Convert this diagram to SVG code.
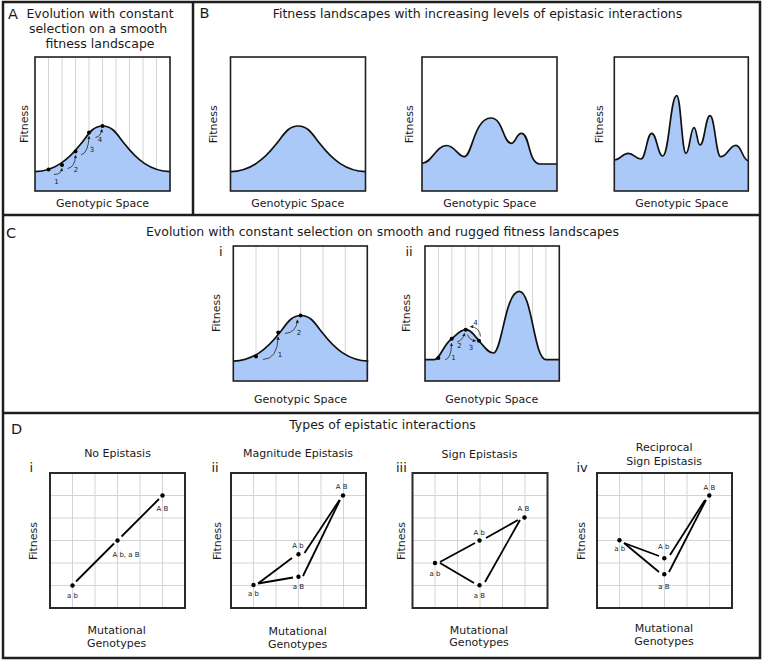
<svg xmlns="http://www.w3.org/2000/svg" width="764" height="661" viewBox="0 0 764 661">
<style>
text{font-family:"DejaVu Sans","Verdana",sans-serif;fill:#1a1a1a}
.ttl{font-size:12.5px;text-anchor:middle}
.let{font-size:14.5px}
.rn{font-size:13px}
.ax{font-size:11px;text-anchor:middle}
.sm{font-size:7px;text-anchor:middle}
.frame{fill:none;stroke:#1e1e1e;stroke-width:2.5}
.box{fill:none;stroke:#1e1e1e;stroke-width:1.6}
.dbox{fill:none;stroke:#2a2a2a;stroke-width:2}
.grid{stroke:#d4d4d4;stroke-width:1}
.fill{fill:#aac9f8;stroke:none}
.curve{fill:none;stroke:#111;stroke-width:1.7}
.arr{fill:none;stroke:#222;stroke-width:0.8;marker-end:url(#ah)}
.dot{fill:#000}
.con{stroke:#000;stroke-width:1.8;fill:none}
</style>
<defs>
<marker id="ah" viewBox="0 0 6 6" refX="5" refY="3" markerWidth="3.5" markerHeight="3.5" markerUnits="userSpaceOnUse" orient="auto"><path d="M0,0 L6,3 L0,6 z" fill="#222"/></marker>
<path id="bellLine" d="M0,114.7 C20,114 33.7,102.5 45.7,87.1 C53.7,76.9 57.7,69 67.7,69 C77.7,69 81.7,76.9 89.7,87.1 C101.7,102.5 115,114 135,114.7"/>
<path id="bellFill" d="M0,114.7 C20,114 33.7,102.5 45.7,87.1 C53.7,76.9 57.7,69 67.7,69 C77.7,69 81.7,76.9 89.7,87.1 C101.7,102.5 115,114 135,114.7 L135,134 L0,134 Z"/>
</defs>
<rect width="764" height="661" fill="#fff"/>

<!-- frame -->
<g id="frame">
<rect class="frame" x="3" y="2" width="757" height="656"/>
<line class="frame" x1="193" y1="2" x2="193" y2="215"/>
<line class="frame" x1="3" y1="215" x2="760" y2="215"/>
<line class="frame" x1="3" y1="413" x2="760" y2="413"/>
</g>

<!-- Panel A -->
<g id="panelA">
<text class="let" x="8" y="18.5">A</text>
<text class="ttl" x="100" y="17.5">Evolution with constant</text>
<text class="ttl" x="98" y="32.5">selection on a smooth</text>
<text class="ttl" x="100" y="48">fitness landscape</text>
<g class="grid">
<line x1="48.5" y1="57" x2="48.5" y2="191"/><line x1="62" y1="57" x2="62" y2="191"/><line x1="75.5" y1="57" x2="75.5" y2="191"/><line x1="89" y1="57" x2="89" y2="191"/><line x1="102.5" y1="57" x2="102.5" y2="191"/><line x1="116" y1="57" x2="116" y2="191"/><line x1="129.5" y1="57" x2="129.5" y2="191"/><line x1="143" y1="57" x2="143" y2="191"/><line x1="156.5" y1="57" x2="156.5" y2="191"/>
</g>
<use href="#bellFill" class="fill" transform="translate(35,57)"/>
<use href="#bellLine" class="curve" transform="translate(35,57)"/>
<rect class="box" x="35" y="57" width="135" height="134"/>
<circle class="dot" cx="48.5" cy="169.5" r="2"/>
<circle class="dot" cx="62" cy="165" r="2"/>
<circle class="dot" cx="75.5" cy="151.5" r="2"/>
<circle class="dot" cx="89" cy="132.5" r="2"/>
<circle class="dot" cx="102.5" cy="126" r="2"/>
<path class="arr" d="M54,174.5 Q61.5,174.5 61.8,168.5"/>
<path class="arr" d="M67.5,168.5 Q75,167.5 75.6,155.5"/>
<path class="arr" d="M81,155 Q88.5,152.5 89,136.5"/>
<path class="arr" d="M95.5,137.5 Q101,136.5 101.8,129.5"/>
<text class="sm" x="56.5" y="184">1</text>
<text class="sm" x="76" y="172">2</text>
<text class="sm" x="92" y="151.5">3</text>
<text class="sm" x="100" y="141.5">4</text>
<text class="ax" transform="translate(28,124) rotate(-90)">Fitness</text>
<text class="ax" x="102.5" y="206.5">Genotypic Space</text>
</g>

<!-- Panel B -->
<g id="panelB">
<text class="let" x="199.5" y="17.5">B</text>
<text class="ttl" x="477.5" y="17.5">Fitness landscapes with increasing levels of epistasic interactions</text>
<g id="B1">
<use href="#bellFill" class="fill" transform="translate(230.5,57)"/>
<use href="#bellLine" class="curve" transform="translate(230.5,57)"/>
<rect class="box" x="230.5" y="57" width="135" height="134"/>
<text class="ax" transform="translate(217,124.3) rotate(-90)">Fitness</text>
<text class="ax" x="297.7" y="206.5">Genotypic Space</text>
</g>
<g id="B2">
<path class="fill" d="M422,163.3 C432,163 436,145.5 446.5,145.5 C455,145.5 458,157 464.5,156.7 C472,156.5 474,118 491,118 C503,118 503,143.3 511.5,143.3 C516,143.3 516,133.3 521.5,133.3 C530,133.3 528,164 540,164 L557,164 L557,191 L422,191 Z"/>
<path class="curve" d="M422,163.3 C432,163 436,145.5 446.5,145.5 C455,145.5 458,157 464.5,156.7 C472,156.5 474,118 491,118 C503,118 503,143.3 511.5,143.3 C516,143.3 516,133.3 521.5,133.3 C530,133.3 528,164 540,164 L557,164"/>
<rect class="box" x="422" y="57" width="135" height="134"/>
<text class="ax" transform="translate(412.5,124.3) rotate(-90)">Fitness</text>
<text class="ax" x="489.7" y="206.5">Genotypic Space</text>
</g>
<g id="B3">
<path class="fill" d="M614.3,160 C620.6,160 622,153.3 628.3,153.3 C634,153.3 635.3,159 641,159 C645.8,159 646.9,133.3 651.7,133.3 C656.6,133.3 657.8,156 662.7,156 C669,156 670.4,95.7 676.7,95.7 C680.9,95.7 681.8,153.3 686,153.3 C689.6,153.3 690.4,127.7 694,127.7 C696.7,127.7 697.3,145 700,145 C704.5,145 705.5,115.7 710,115.7 C714.8,115.7 715.9,156.7 720.7,156.7 C727.6,156.7 729.1,145.3 736,145.3 C741.5,145.3 742.8,160.7 748.3,160.7 L748.3,191 L614.3,191 Z"/>
<path class="curve" d="M614.3,160 C620.6,160 622,153.3 628.3,153.3 C634,153.3 635.3,159 641,159 C645.8,159 646.9,133.3 651.7,133.3 C656.6,133.3 657.8,156 662.7,156 C669,156 670.4,95.7 676.7,95.7 C680.9,95.7 681.8,153.3 686,153.3 C689.6,153.3 690.4,127.7 694,127.7 C696.7,127.7 697.3,145 700,145 C704.5,145 705.5,115.7 710,115.7 C714.8,115.7 715.9,156.7 720.7,156.7 C727.6,156.7 729.1,145.3 736,145.3 C741.5,145.3 742.8,160.7 748.3,160.7"/>
<rect class="box" x="614.3" y="57" width="134" height="134"/>
<text class="ax" transform="translate(603.2,124.3) rotate(-90)">Fitness</text>
<text class="ax" x="681.7" y="206.5">Genotypic Space</text>
</g>
</g>

<!-- Panel C -->
<g id="panelC">
<text class="let" x="6" y="238">C</text>
<text class="ttl" x="382.5" y="235.5">Evolution with constant selection on smooth and rugged fitness landscapes</text>
<g id="Ci">
<text class="rn" x="219" y="255.7">i</text>
<g class="grid">
<line x1="256" y1="246" x2="256" y2="381"/><line x1="278.3" y1="246" x2="278.3" y2="381"/><line x1="300.6" y1="246" x2="300.6" y2="381"/><line x1="323" y1="246" x2="323" y2="381"/><line x1="345.3" y1="246" x2="345.3" y2="381"/>
</g>
<use href="#bellFill" class="fill" transform="translate(233.3,246.5)"/>
<use href="#bellLine" class="curve" transform="translate(233.3,246.5)"/>
<rect class="box" x="233.3" y="246" width="134" height="135"/>
<circle class="dot" cx="256" cy="356.5" r="2"/>
<circle class="dot" cx="278.3" cy="332.5" r="2"/>
<circle class="dot" cx="300.6" cy="315.5" r="2"/>
<path class="arr" d="M263,359.5 Q277.5,359 278.2,337"/>
<path class="arr" d="M285,333.5 Q296.5,332.5 297.5,320"/>
<text class="sm" x="280" y="357">1</text>
<text class="sm" x="299" y="335">2</text>
<text class="ax" transform="translate(220,313) rotate(-90)">Fitness</text>
<text class="ax" x="300.5" y="403">Genotypic Space</text>
</g>
<g id="Cii">
<text class="rn" x="405.5" y="255.7">ii</text>
<g class="grid">
<line x1="438.4" y1="246" x2="438.4" y2="381"/><line x1="451.8" y1="246" x2="451.8" y2="381"/><line x1="465.3" y1="246" x2="465.3" y2="381"/><line x1="478.7" y1="246" x2="478.7" y2="381"/><line x1="492.1" y1="246" x2="492.1" y2="381"/><line x1="505.6" y1="246" x2="505.6" y2="381"/><line x1="519" y1="246" x2="519" y2="381"/><line x1="532.5" y1="246" x2="532.5" y2="381"/><line x1="545.9" y1="246" x2="545.9" y2="381"/>
</g>
<path class="fill" d="M425,359.7 L434,359.7 C440,359.7 443,345 451.7,338.7 C456,335.5 460,329.7 465.7,329.7 C471,329.7 474,335 479,340.7 C484,346.5 488,353 493.3,353 C502,353 505,291.3 519.3,291.3 C532,291.3 534,359.7 546,359.7 L559.3,359.7 L559.3,381 L425,381 Z"/>
<path class="curve" d="M425,359.7 L434,359.7 C440,359.7 443,345 451.7,338.7 C456,335.5 460,329.7 465.7,329.7 C471,329.7 474,335 479,340.7 C484,346.5 488,353 493.3,353 C502,353 505,291.3 519.3,291.3 C532,291.3 534,359.7 546,359.7 L559.3,359.7"/>
<rect class="box" x="425" y="246" width="134.3" height="135"/>
<circle class="dot" cx="438.4" cy="358" r="2"/>
<circle class="dot" cx="451.7" cy="338.7" r="2"/>
<circle class="dot" cx="465.7" cy="329.7" r="2"/>
<circle class="dot" cx="479" cy="340.7" r="2"/>
<path class="arr" d="M445,360 Q451.5,358 451.5,343.5"/>
<path class="arr" d="M457,342 Q463,340 464.5,333.5"/>
<path class="arr" d="M467.5,334.5 Q469,340 475.5,341"/>
<path class="arr" d="M480.5,336.5 Q480,327.5 470.5,326.5"/>
<text class="sm" x="453.5" y="360">1</text>
<text class="sm" x="459.5" y="347.5">2</text>
<text class="sm" x="471" y="350">3</text>
<text class="sm" x="475.5" y="324.5">4</text>
<text class="ax" transform="translate(410,313) rotate(-90)">Fitness</text>
<text class="ax" x="491.7" y="403">Genotypic Space</text>
</g>
</g>

<!-- Panel D -->
<g id="panelD">
<text class="let" x="11" y="433.5">D</text>
<text class="ttl" x="382.5" y="428.5">Types of epistatic interactions</text>

<g id="Di">
<text class="ax" x="117.5" y="457.3">No Epistasis</text>
<text class="rn" x="29.5" y="472">i</text>
<g class="grid">
<line x1="72.5" y1="473" x2="72.5" y2="608"/><line x1="95" y1="473" x2="95" y2="608"/><line x1="117.5" y1="473" x2="117.5" y2="608"/><line x1="140" y1="473" x2="140" y2="608"/><line x1="162.5" y1="473" x2="162.5" y2="608"/>
<line x1="50" y1="495.5" x2="185" y2="495.5"/><line x1="50" y1="518" x2="185" y2="518"/><line x1="50" y1="540.5" x2="185" y2="540.5"/><line x1="50" y1="563" x2="185" y2="563"/><line x1="50" y1="585.5" x2="185" y2="585.5"/>
</g>
<rect class="dbox" x="50" y="473" width="135" height="135"/>
<g class="dots">
<circle class="dot" cx="72.5" cy="585.5" r="2.2"/>
<circle class="dot" cx="117.5" cy="540.5" r="2.2"/>
<circle class="dot" cx="162.5" cy="495.5" r="2.2"/>
</g>
<text class="sm" x="72.5" y="597.5">a b</text>
<text class="sm" x="126" y="556.7">A b, a B</text>
<text class="sm" x="162.5" y="511">A B</text>
<text class="ax" transform="translate(36.5,541) rotate(-90)">Fitness</text>
<text class="ax" x="116.7" y="634">Mutational</text>
<text class="ax" x="116.7" y="646.5">Genotypes</text>
</g>

<g id="Dii">
<text class="ax" x="298" y="457.3">Magnitude Epistasis</text>
<text class="rn" x="211.5" y="472">ii</text>
<g class="grid">
<line x1="253.5" y1="473" x2="253.5" y2="608"/><line x1="276" y1="473" x2="276" y2="608"/><line x1="298.5" y1="473" x2="298.5" y2="608"/><line x1="321" y1="473" x2="321" y2="608"/><line x1="343.5" y1="473" x2="343.5" y2="608"/>
<line x1="231" y1="495.5" x2="366" y2="495.5"/><line x1="231" y1="518" x2="366" y2="518"/><line x1="231" y1="540.5" x2="366" y2="540.5"/><line x1="231" y1="563" x2="366" y2="563"/><line x1="231" y1="585.5" x2="366" y2="585.5"/>
</g>
<rect class="dbox" x="231" y="473" width="135" height="135"/>
<circle class="dot" cx="253.5" cy="585" r="2.2"/>
<circle class="dot" cx="298.5" cy="554.3" r="2.2"/>
<circle class="dot" cx="298.5" cy="576.7" r="2.2"/>
<circle class="dot" cx="343" cy="495.5" r="2.2"/>
<text class="sm" x="253.5" y="595.5">a b</text>
<text class="sm" x="298" y="547.7">A b</text>
<text class="sm" x="298.5" y="589.3">a B</text>
<text class="sm" x="341.7" y="489.3">A B</text>
<text class="ax" transform="translate(220.5,541) rotate(-90)">Fitness</text>
<text class="ax" x="297.7" y="635">Mutational</text>
<text class="ax" x="297.7" y="647.5">Genotypes</text>
</g>

<g id="Diii">
<text class="ax" x="479.5" y="457.8">Sign Epistasis</text>
<text class="rn" x="396" y="472">iii</text>
<g class="grid">
<line x1="435" y1="473" x2="435" y2="608"/><line x1="457.5" y1="473" x2="457.5" y2="608"/><line x1="480" y1="473" x2="480" y2="608"/><line x1="502.5" y1="473" x2="502.5" y2="608"/><line x1="525" y1="473" x2="525" y2="608"/>
<line x1="412.5" y1="495.5" x2="547.5" y2="495.5"/><line x1="412.5" y1="518" x2="547.5" y2="518"/><line x1="412.5" y1="540.5" x2="547.5" y2="540.5"/><line x1="412.5" y1="563" x2="547.5" y2="563"/><line x1="412.5" y1="585.5" x2="547.5" y2="585.5"/>
</g>
<rect class="dbox" x="412.5" y="473" width="135" height="135"/>
<circle class="dot" cx="435" cy="563" r="2.2"/>
<circle class="dot" cx="479.5" cy="540.5" r="2.2"/>
<circle class="dot" cx="479.5" cy="585.3" r="2.2"/>
<circle class="dot" cx="524.5" cy="517.5" r="2.2"/>
<text class="sm" x="435" y="575.7">a b</text>
<text class="sm" x="479.3" y="535">A b</text>
<text class="sm" x="479.5" y="598.3">a B</text>
<text class="sm" x="523.3" y="511">A B</text>
<text class="ax" transform="translate(405,541) rotate(-90)">Fitness</text>
<text class="ax" x="479" y="633.5">Mutational</text>
<text class="ax" x="479" y="646">Genotypes</text>
</g>

<g id="Div">
<text class="ax" x="664.2" y="450.7">Reciprocal</text>
<text class="ax" x="664.2" y="465">Sign Epistasis</text>
<text class="rn" x="576.5" y="472">iv</text>
<g class="grid">
<line x1="619.5" y1="473" x2="619.5" y2="608"/><line x1="642" y1="473" x2="642" y2="608"/><line x1="664.5" y1="473" x2="664.5" y2="608"/><line x1="687" y1="473" x2="687" y2="608"/><line x1="709.5" y1="473" x2="709.5" y2="608"/>
<line x1="597" y1="495.5" x2="732" y2="495.5"/><line x1="597" y1="518" x2="732" y2="518"/><line x1="597" y1="540.5" x2="732" y2="540.5"/><line x1="597" y1="563" x2="732" y2="563"/><line x1="597" y1="585.5" x2="732" y2="585.5"/>
</g>
<rect class="dbox" x="597" y="473" width="135" height="135"/>
<circle class="dot" cx="619.5" cy="540.3" r="2.2"/>
<circle class="dot" cx="664.3" cy="558.3" r="2.2"/>
<circle class="dot" cx="664.3" cy="574.3" r="2.2"/>
<circle class="dot" cx="709.3" cy="495.5" r="2.2"/>
<text class="sm" x="619.7" y="551.3">a b</text>
<text class="sm" x="663.8" y="548.7">A b</text>
<text class="sm" x="664" y="589">a B</text>
<text class="sm" x="709.3" y="490">A B</text>
<text class="ax" transform="translate(585,541) rotate(-90)">Fitness</text>
<text class="ax" x="664" y="632">Mutational</text>
<text class="ax" x="664" y="644.5">Genotypes</text>
</g>
</g>

<!-- connectors -->
<g id="connectors" class="con">
<line x1="76" y1="581.5" x2="114" y2="543.5"/>
<line x1="121.5" y1="536.5" x2="159" y2="499"/>
<line x1="258" y1="583.5" x2="292" y2="558"/>
<line x1="258" y1="583.5" x2="293" y2="577.5"/>
<line x1="304.5" y1="553" x2="339.5" y2="500"/>
<line x1="303" y1="576" x2="340" y2="500"/>
<line x1="440" y1="562" x2="475" y2="543"/>
<line x1="440" y1="563" x2="474" y2="583"/>
<line x1="486" y1="538" x2="518" y2="520"/>
<line x1="485" y1="582" x2="520" y2="520"/>
<line x1="624" y1="543" x2="659" y2="556"/>
<line x1="624" y1="543" x2="659" y2="572"/>
<line x1="670" y1="555" x2="705" y2="500"/>
<line x1="669" y1="572" x2="706" y2="500"/>
</g>
</svg>
